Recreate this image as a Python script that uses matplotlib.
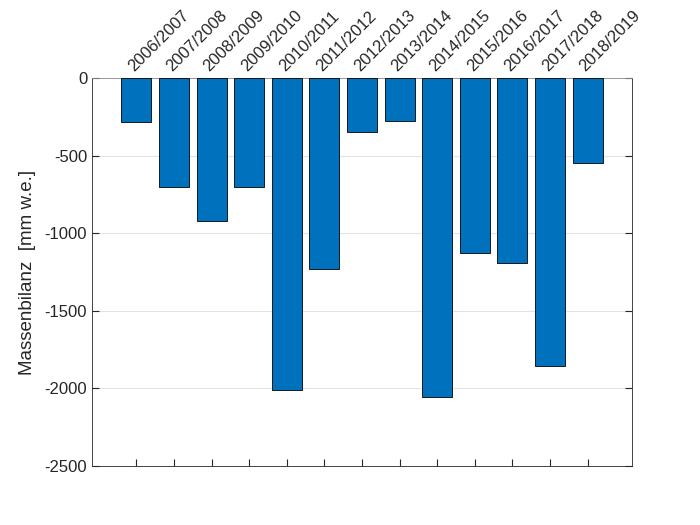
import matplotlib
matplotlib.use("Agg")
import matplotlib.pyplot as plt

seasons = ["2006/2007", "2007/2008", "2008/2009", "2009/2010", "2010/2011",
           "2011/2012", "2012/2013", "2013/2014", "2014/2015", "2015/2016",
           "2016/2017", "2017/2018", "2018/2019"]
balance = [-285, -700, -920, -700, -2010, -1230, -350, -275, -2055, -1130,
           -1190, -1855, -545]

plt.rcParams["font.family"] = ["Liberation Sans", "DejaVu Sans"]
plt.rcParams["axes.unicode_minus"] = False
text_col = "#262626"

fig = plt.figure(figsize=(7, 5.25), dpi=100)
ax = fig.add_axes([92 / 700, 1 - 466 / 525, 540 / 700, 388 / 525])

x = list(range(1, len(seasons) + 1))
ax.bar(x, balance, width=0.8, color="#0072BD", edgecolor="black",
       linewidth=0.6, zorder=3)

ax.set_xlim(-0.18, 14.18)
ax.set_ylim(-2500, 0)
ax.set_yticks([0, -500, -1000, -1500, -2000, -2500])
ax.set_xticks(x)
ax.set_xticklabels(seasons, rotation=45, ha="left", va="bottom",
                   rotation_mode="anchor", fontsize=12, color=text_col)
ax.xaxis.tick_top()
ax.tick_params(axis="x", which="both", top=True, bottom=True,
               labeltop=True, labelbottom=False, direction="in",
               length=5, color=text_col, pad=3)
ax.tick_params(axis="y", direction="in", left=True, right=True,
               length=5, color=text_col, labelsize=12, labelcolor=text_col)

ax.yaxis.grid(True, color="#e3e3e3", linewidth=0.8, zorder=0)
ax.set_axisbelow(True)
for side in ["left", "right", "bottom", "top"]:
    ax.spines[side].set_color(text_col)
    ax.spines[side].set_linewidth(0.6)
ax.spines["top"].set_color("#8c8c8c")

ax.set_ylabel("Massenbilanz  [mm w.e.]", fontsize=13.5, color=text_col,
              labelpad=6)

fig.savefig("out.png", dpi=100)
